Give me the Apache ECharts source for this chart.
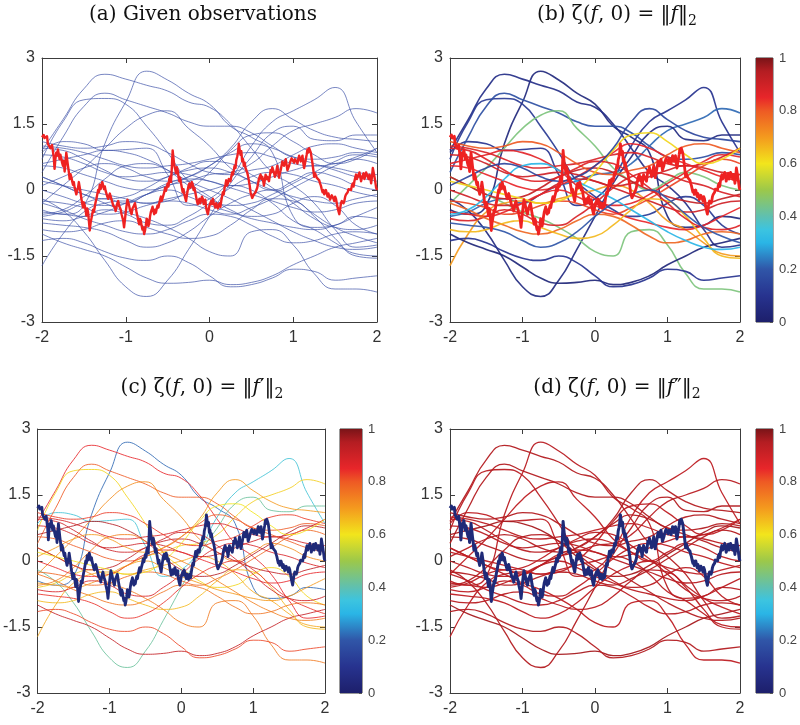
<!DOCTYPE html>
<html><head><meta charset="utf-8">
<script src="https://cdn.jsdelivr.net/npm/echarts@6/dist/echarts.min.js"></script>
<style>html,body{margin:0;padding:0;background:#fff}#c{width:800px;height:725px}</style>
</head><body><div id="c"></div>
<script>
// ---------- data ----------
const xKnots = [-2,-1.75,-1.5,-1.25,-1,-0.75,-0.5,-0.25,0,0.25,0.5,0.75,1,1.25,1.5,1.75,2];
const curves = [
 [-0.45,-0.55,-0.35,1.05,2.0,2.7,2.5,2.2,1.95,1.45,1.2,0.85,-0.6,-0.85,-0.8,-0.6,-0.65],
 [0.9,1.6,2.3,2.63,2.52,2.38,2.25,2.0,1.88,1.5,0.95,0.4,0.1,-0.3,-0.9,-1.3,-1.25],
 [0.85,1.1,1.05,0.9,0.92,0.95,0.35,-0.35,-0.2,0.25,1.0,1.55,1.8,2.05,2.33,1.55,0.85],
 [0.7,1.55,2.05,2.08,1.95,1.45,0.85,0.2,-0.15,-0.45,-0.6,-0.55,-0.3,-0.15,-0.35,-0.8,-1.0],
 [0.4,1.2,1.9,2.2,2.05,1.9,1.75,1.55,1.45,1.45,1.3,1.0,0.75,0.7,0.75,0.85,0.8],
 [-0.3,0.1,0.5,0.95,1.4,1.7,1.8,1.4,1.0,0.5,0.2,0.0,0.2,0.4,0.3,0.1,0.0],
 [-0.6,-0.5,-0.3,-0.2,-0.3,-0.1,0.1,0.2,0.35,0.4,0.6,1.0,1.35,1.5,1.65,1.85,1.75],
 [-0.2,-0.47,-0.95,-1.6,-2.2,-2.42,-2.05,-1.35,-0.6,0.15,0.75,1.3,1.45,1.15,1.12,1.25,1.25],
 [0.3,0.1,-0.1,-0.3,-0.5,-0.65,-0.85,-1.1,-1.4,-1.5,-0.95,-0.9,-1.25,-1.9,-2.25,-2.25,-2.32],
 [-1.72,-1.0,-0.5,-0.3,-0.25,-0.3,-0.2,-0.1,0.0,0.1,0.0,-0.3,-0.7,-0.9,-1.2,-1.45,-1.5],
 [-1.0,-1.2,-1.35,-1.5,-1.75,-2.0,-2.12,-2.1,-2.05,-2.15,-2.1,-1.95,-1.7,-1.5,-1.3,-1.2,-1.1],
 [-1.15,-1.1,-1.2,-1.4,-1.55,-1.6,-1.5,-1.65,-1.95,-2.2,-2.15,-2.0,-1.8,-1.85,-2.05,-2.0,-1.95],
 [1.0,0.95,0.85,0.7,0.55,0.5,0.55,0.6,0.7,0.8,0.85,0.75,0.6,0.55,0.6,0.75,0.95],
 [0.8,0.75,0.6,0.4,0.3,0.35,0.4,0.35,0.2,0.1,0.15,0.3,0.45,0.55,0.5,0.4,0.35],
 [0.55,0.5,0.35,0.2,0.05,0.0,0.1,0.3,0.55,0.85,1.05,0.95,0.75,0.6,0.45,0.3,0.2],
 [0.3,0.1,-0.1,-0.2,-0.15,0.05,0.3,0.45,0.5,0.4,0.2,0.0,-0.15,-0.25,-0.3,-0.2,-0.1],
 [0.0,-0.15,-0.3,-0.35,-0.3,-0.1,0.15,0.25,0.2,0.05,-0.1,-0.25,-0.4,-0.5,-0.45,-0.3,-0.25],
 [-0.25,-0.3,-0.4,-0.55,-0.5,-0.35,-0.25,-0.3,-0.45,-0.55,-0.4,-0.2,0.05,0.3,0.55,0.7,0.6],
 [-0.5,-0.55,-0.6,-0.5,-0.3,-0.1,0.0,-0.15,-0.35,-0.5,-0.65,-0.75,-0.85,-0.9,-0.8,-0.6,-0.4],
 [-0.65,-0.7,-0.6,-0.45,-0.55,-0.75,-0.8,-0.6,-0.3,0.05,0.3,0.4,0.35,0.2,0.1,-0.05,-0.15],
 [1.1,1.0,0.95,1.0,1.1,1.05,0.85,0.6,0.4,0.35,0.45,0.55,0.8,1.0,1.05,0.95,0.85],
 [-0.3,-0.45,-0.65,-0.8,-0.95,-1.0,-0.9,-0.7,-0.55,-0.6,-0.8,-1.05,-1.2,-1.15,-1.0,-0.95,-1.0],
 [0.6,0.7,0.8,0.9,0.85,0.7,0.45,0.1,-0.2,-0.35,-0.3,-0.1,0.15,0.4,0.65,0.8,0.75],
 [0.2,0.1,0.0,-0.1,-0.2,-0.3,-0.25,0.0,0.4,0.9,1.25,1.3,1.1,0.8,0.6,0.7,0.95],
 [-0.9,-0.95,-0.9,-0.75,-0.7,-0.85,-1.0,-1.1,-1.05,-0.8,-0.45,-0.2,-0.25,-0.6,-1.1,-1.5,-1.55],
 [-0.55,-0.45,-0.15,0.25,0.55,0.6,0.45,0.2,0.0,-0.2,-0.45,-0.7,-0.95,-1.15,-1.3,-1.35,-1.3],
 [0.95,0.9,0.7,0.45,0.25,0.2,0.3,0.5,0.65,0.6,0.35,0.05,-0.3,-0.65,-0.85,-0.9,-0.8],
 [-0.75,-0.8,-0.85,-0.95,-1.15,-1.3,-1.2,-0.95,-0.6,-0.3,-0.1,0.0,-0.2,-0.55,-0.85,-1.05,-1.2],
 [0.1,0.3,0.5,0.6,0.5,0.3,0.2,0.3,0.55,0.95,1.55,1.85,1.6,1.35,1.2,1.15,1.1]
];
const zetaB = [0.05,0.08,0.1,0.12,0.18,0.45,0.22,0.06,0.45,0.7,0.04,0.1,0.88,0.9,0.85,0.92,0.9,0.82,0.85,0.88,0.8,0.78,0.86,0.62,0.66,0.3,0.87,0.2,0.15];
const zetaC = [0.22,0.85,0.36,0.62,0.8,0.72,0.63,0.42,0.75,0.68,0.92,0.82,0.88,0.9,0.8,0.93,0.85,0.78,0.7,0.88,0.83,0.76,0.95,0.6,0.66,0.74,0.9,0.84,0.7];
const zetaD = [0.94,0.95,0.93,0.94,0.95,0.93,0.94,0.95,0.93,0.94,0.96,0.95,0.93,0.94,0.95,0.93,0.94,0.95,0.94,0.93,0.95,0.94,0.96,0.93,0.94,0.95,0.94,0.93,0.95];
const highlight = [
 [-2.00,1.20],[-1.98,1.25],[-1.97,1.18],[-1.95,1.15],[-1.94,1.22],[-1.93,1.05],[-1.91,1.08],[-1.90,0.95],[-1.89,0.92],[-1.88,1.02],[-1.87,0.98],[-1.86,0.75],[-1.85,0.48],[-1.84,0.70],[-1.83,0.85],[-1.82,0.78],[-1.81,0.92],
 [-1.80,0.82],[-1.79,0.70],[-1.78,0.80],[-1.77,0.72],[-1.76,0.62],[-1.75,0.55],[-1.74,0.66],[-1.73,0.42],[-1.72,0.60],[-1.71,0.85],[-1.70,0.70],[-1.69,0.55],[-1.68,0.42],[-1.67,0.25],[-1.66,0.36],[-1.65,0.30],[-1.64,0.20],[-1.63,0.12],[-1.62,0.18],[-1.61,0.05],
 [-1.59,-0.10],[-1.58,-0.02],[-1.57,0.05],[-1.56,0.18],[-1.55,0.15],[-1.54,-0.05],[-1.53,-0.20],[-1.52,-0.30],[-1.51,-0.40],[-1.50,-0.28],[-1.49,-0.35],[-1.48,-0.45],[-1.47,-0.58],[-1.46,-0.42],[-1.45,-0.50],[-1.44,-0.70],[-1.43,-0.92],[-1.42,-0.75],[-1.41,-0.65],
 [-1.40,-0.55],[-1.39,-0.45],[-1.38,-0.50],[-1.37,-0.38],[-1.36,-0.28],[-1.35,-0.20],[-1.34,-0.10],[-1.33,0.00],[-1.32,-0.05],[-1.31,0.12],[-1.30,0.02],[-1.29,0.05],[-1.28,0.18],[-1.27,0.15],[-1.26,0.02],[-1.25,0.08],[-1.24,-0.02],[-1.23,-0.05],[-1.22,-0.15],[-1.21,-0.20],
 [-1.19,-0.08],[-1.18,-0.15],[-1.16,-0.28],[-1.15,-0.35],[-1.13,-0.40],[-1.12,-0.48],[-1.11,-0.38],[-1.10,-0.30],[-1.09,-0.25],[-1.08,-0.35],[-1.06,-0.45],[-1.05,-0.55],[-1.03,-0.70],[-1.02,-0.85],[-1.01,-0.68],[-1.00,-0.50],[-0.99,-0.35],[-0.98,-0.22],[-0.97,-0.28],[-0.96,-0.35],
 [-0.95,-0.45],[-0.93,-0.55],[-0.92,-0.42],[-0.90,-0.35],[-0.89,-0.30],[-0.88,-0.40],[-0.87,-0.52],[-0.86,-0.60],[-0.85,-0.70],[-0.84,-0.78],[-0.83,-0.65],[-0.82,-0.70],[-0.81,-0.82],[-0.80,-0.90],[-0.79,-0.85],[-0.78,-1.00],[-0.77,-0.92],[-0.76,-0.80],[-0.75,-0.65],[-0.74,-0.70],
 [-0.73,-0.82],[-0.72,-0.75],[-0.71,-0.60],[-0.70,-0.50],[-0.69,-0.45],[-0.68,-0.38],[-0.67,-0.48],[-0.66,-0.55],[-0.65,-0.45],[-0.64,-0.52],[-0.63,-0.42],[-0.62,-0.35],[-0.61,-0.40],[-0.60,-0.30],[-0.59,-0.22],[-0.58,-0.15],[-0.57,-0.25],[-0.56,-0.18],[-0.54,-0.05],[-0.53,0.05],
 [-0.52,-0.02],[-0.50,0.15],[-0.49,0.08],[-0.48,0.25],[-0.47,0.30],[-0.46,0.18],[-0.45,0.50],[-0.44,0.90],[-0.43,0.72],[-0.42,0.55],[-0.41,0.48],[-0.40,0.38],[-0.39,0.52],[-0.38,0.45],[-0.37,0.30],[-0.36,0.20],[-0.35,0.28],[-0.34,0.15],[-0.33,0.05],[-0.32,-0.05],
 [-0.31,0.02],[-0.30,-0.10],[-0.29,-0.18],[-0.28,-0.25],[-0.27,-0.12],[-0.26,0.00],[-0.25,0.10],[-0.24,0.15],[-0.23,0.05],[-0.22,0.10],[-0.21,0.18],[-0.20,0.12],[-0.19,0.00],[-0.18,0.05],[-0.17,-0.05],[-0.16,-0.15],[-0.15,-0.25],[-0.14,-0.32],[-0.13,-0.25],[-0.12,-0.20],
 [-0.11,-0.30],[-0.10,-0.28],[-0.09,-0.15],[-0.08,-0.20],[-0.07,-0.32],[-0.06,-0.30],[-0.05,-0.22],[-0.04,-0.40],[-0.03,-0.48],[-0.02,-0.55],[-0.01,-0.45],[0.00,-0.35],[0.01,-0.30],[0.02,-0.25],[0.03,-0.32],[0.04,-0.20],[0.05,-0.28],[0.06,-0.35],[0.07,-0.40],[0.08,-0.30],
 [0.09,-0.36],[0.10,-0.42],[0.11,-0.35],[0.12,-0.30],[0.13,-0.38],[0.14,-0.25],[0.15,-0.15],[0.16,-0.05],[0.17,-0.10],[0.18,0.05],[0.19,0.12],[0.20,0.22],[0.21,0.10],[0.22,0.15],[0.23,0.25],[0.24,0.28],[0.25,0.20],[0.26,0.30],[0.27,0.40],[0.28,0.35],
 [0.29,0.45],[0.30,0.55],[0.31,0.50],[0.32,0.68],[0.33,0.75],[0.34,0.85],[0.35,1.05],[0.36,0.92],[0.37,0.80],[0.38,0.88],[0.39,0.65],[0.40,0.70],[0.41,0.55],[0.42,0.62],[0.43,0.50],[0.44,0.45],[0.45,0.40],[0.46,0.32],[0.47,0.30],[0.48,0.10],
 [0.49,-0.05],[0.50,-0.12],[0.51,-0.18],[0.52,-0.15],[0.53,-0.10],[0.54,-0.12],[0.55,-0.05],[0.56,0.00],[0.57,0.05],[0.58,0.15],[0.59,0.25],[0.60,0.30],[0.61,0.35],[0.62,0.25],[0.63,0.30],[0.64,0.22],[0.65,0.10],[0.66,0.22],[0.67,0.35],[0.68,0.25],
 [0.69,0.30],[0.70,0.28],[0.71,0.20],[0.72,0.32],[0.73,0.45],[0.74,0.40],[0.75,0.52],[0.76,0.45],[0.77,0.40],[0.78,0.30],[0.79,0.35],[0.80,0.45],[0.81,0.55],[0.82,0.40],[0.83,0.28],[0.84,0.38],[0.85,0.45],[0.86,0.55],[0.87,0.65],[0.88,0.60],
 [0.89,0.55],[0.90,0.62],[0.91,0.70],[0.92,0.58],[0.93,0.45],[0.94,0.50],[0.95,0.55],[0.96,0.62],[0.97,0.65],[0.98,0.72],[0.99,0.75],[1.00,0.68],[1.01,0.62],[1.02,0.70],[1.03,0.72],[1.04,0.65],[1.05,0.60],[1.06,0.70],[1.07,0.78],[1.08,0.72],
 [1.09,0.65],[1.10,0.72],[1.11,0.78],[1.12,0.62],[1.13,0.50],[1.14,0.60],[1.15,0.70],[1.16,0.80],[1.17,0.92],[1.18,0.85],[1.19,0.95],[1.20,0.90],[1.21,0.85],[1.22,0.72],[1.23,0.60],[1.24,0.45],[1.25,0.30],[1.26,0.38],[1.27,0.35],[1.28,0.28],
 [1.29,0.25],[1.30,0.30],[1.31,0.22],[1.32,0.15],[1.33,0.10],[1.34,0.02],[1.35,-0.05],[1.36,0.00],[1.37,-0.10],[1.38,-0.05],[1.39,0.00],[1.40,-0.08],[1.41,-0.15],[1.42,-0.08],[1.43,-0.12],[1.44,-0.22],[1.45,-0.18],[1.46,-0.12],[1.47,-0.10],[1.48,-0.20],
 [1.49,-0.25],[1.50,-0.15],[1.51,-0.20],[1.52,-0.30],[1.53,-0.40],[1.54,-0.48],[1.55,-0.55],[1.56,-0.42],[1.57,-0.30],[1.58,-0.25],[1.59,-0.22],[1.60,-0.30],[1.61,-0.25],[1.62,-0.15],[1.63,-0.10],[1.64,-0.12],[1.65,-0.05],[1.66,0.02],[1.67,0.05],[1.68,-0.02],
 [1.69,0.00],[1.70,0.10],[1.71,0.15],[1.72,0.08],[1.73,0.20],[1.74,0.28],[1.75,0.35],[1.76,0.25],[1.77,0.30],[1.78,0.35],[1.79,0.40],[1.80,0.30],[1.81,0.20],[1.82,0.28],[1.83,0.30],[1.84,0.38],[1.85,0.25],[1.86,0.32],[1.87,0.40],[1.88,0.35],
 [1.89,0.30],[1.90,0.25],[1.91,0.35],[1.92,0.28],[1.93,0.15],[1.94,0.30],[1.95,0.50],[1.96,0.40],[1.97,0.30],[1.98,0.18],[1.99,0.05],[2.00,0.00]
];
const cbStops = [[0,'#1d1f6b'],[0.1,'#27338f'],[0.2,'#3056a8'],[0.3,'#2ab5e6'],[0.35,'#3cc4e0'],[0.4,'#5fc0b0'],[0.5,'#9cc84a'],[0.6,'#f2e51c'],[0.7,'#f49a1e'],[0.8,'#ee5a24'],[0.85,'#e8262a'],[0.95,'#b41d22'],[1,'#7a1418']];

// ---------- helpers ----------
function hex(c){return [parseInt(c.substr(1,2),16),parseInt(c.substr(3,2),16),parseInt(c.substr(5,2),16)];}
function cmap(v,a){
  for(let i=1;i<cbStops.length;i++){
    if(v<=cbStops[i][0]){
      const t=(v-cbStops[i-1][0])/(cbStops[i][0]-cbStops[i-1][0]);
      const p=hex(cbStops[i-1][1]),q=hex(cbStops[i][1]);
      const r=p.map((x,k)=>Math.round(x+(q[k]-x)*t));
      return 'rgba('+r[0]+','+r[1]+','+r[2]+','+a+')';
    }
  }
  return cbStops[cbStops.length-1][1];
}

const plotGrids = [
  {left:42, top:58, width:335, height:264},
  {left:450, top:58, width:290, height:264},
  {left:35, top:429, width:290, height:264},
  {left:450, top:429, width:290, height:264}
];
const cbGrids = [
  {left:756, top:58, width:21, height:264},
  {left:340, top:429, width:22, height:264},
  {left:756, top:429, width:21, height:264}
];
const axCol = '#3c3c3c';
const lblFont = "'Liberation Sans', Arial, sans-serif";
const grid=[], xAxis=[], yAxis=[], series=[];
plotGrids.forEach((g,i)=>{
  grid.push(Object.assign({containLabel:false},g));
  const common = {type:'value', gridIndex:i, splitLine:{show:false},
    axisLine:{show:true,onZero:false,lineStyle:{color:axCol,width:1}},
    axisTick:{show:true,inside:true,length:5,lineStyle:{color:axCol}}};
  xAxis.push(Object.assign({},common,{position:'bottom',min:-2,max:2,interval:1,
    axisLabel:{color:'#333',fontSize:16,fontFamily:lblFont,margin:8}}));
  xAxis.push(Object.assign({},common,{position:'top',min:-2,max:2,interval:1,axisLabel:{show:false}}));
  yAxis.push(Object.assign({},common,{position:'left',min:-3,max:3,interval:1.5,
    axisLabel:{color:'#333',fontSize:16,fontFamily:lblFont,margin:7}}));
  yAxis.push(Object.assign({},common,{position:'right',min:-3,max:3,interval:1.5,axisLabel:{show:false}}));
});
cbGrids.forEach((g,j)=>{
  const gi = 4+j;
  grid.push(Object.assign({show:true,borderColor:'#333',borderWidth:1},g));
  xAxis.push({type:'category',gridIndex:gi,data:['z'],show:false,boundaryGap:true});
  yAxis.push({type:'value',gridIndex:gi,position:'right',min:0,max:1,interval:0.2,
    splitLine:{show:false},axisLine:{show:false},
    axisTick:{show:true,inside:true,length:3,lineStyle:{color:'#555'}},
    axisLabel:{color:'#444',fontSize:13,fontFamily:lblFont,margin:6}});
  series.push({type:'bar',xAxisIndex:8+j,yAxisIndex:8+j,data:[1],barWidth:'100%',silent:true,
    itemStyle:{color:new echarts.graphic.LinearGradient(0,1,0,0,cbStops.map(s=>({offset:s[0],color:s[1]})))}});
});

const panelStyles = [
  {col:()=> 'rgba(62,82,168,0.78)', w:0.9, hl:'#ee2222', hw:2.4},
  {col:(i)=> cmap(zetaB[i],0.92), w:1.6, hl:'#ee2222', hw:2.8},
  {col:(i)=> cmap(zetaC[i],0.85), w:1, hl:'#1f2a78', hw:2.8},
  {col:(i)=> cmap(zetaD[i],0.95), w:1.3, hl:'#1f2a78', hw:3}
];
panelStyles.forEach((ps,p)=>{
  curves.forEach((c,i)=>{
    series.push({type:'line',xAxisIndex:2*p,yAxisIndex:2*p,showSymbol:false,smooth:0.5,silent:true,
      data:c.map((v,k)=>[xKnots[k],v]),lineStyle:{color:ps.col(i),width:ps.w},z:2});
  });
  series.push({type:'line',xAxisIndex:2*p,yAxisIndex:2*p,showSymbol:false,silent:true,
    data:highlight,lineStyle:{color:ps.hl,width:ps.hw,join:'round'},z:5});
});

const serif = "'DejaVu Serif','Liberation Serif',serif";
function mk(x,y,txt){
  const base={fontFamily:serif,fontSize:20,fill:'#111',lineHeight:26,verticalAlign:'middle'};
  return {type:'text',x:x,y:y,style:{text:txt,align:'center',verticalAlign:'middle',
    font:'20px '+serif,fill:'#111',
    rich:{n:base,
          i:Object.assign({},base,{fontStyle:'italic'}),
          s:{fontFamily:serif,fontSize:14,fill:'#111',lineHeight:26,verticalAlign:'bottom'}}}};
}
const graphic = [
  mk(203,15,'{n|(a) Given observations}'),
  mk(617,15,'{n|(b) ζ(}{i|f}{n|, 0) = ‖}{i|f}{n|‖}{s|2}'),
  mk(202,388,'{n|(c) ζ(}{i|f}{n|, 0) = ‖}{i|f}{n|′‖}{s|2}'),
  mk(617,388,'{n|(d) ζ(}{i|f}{n|, 0) = ‖}{i|f}{n|″‖}{s|2}')
];

const chart = echarts.init(document.getElementById('c'),null,{renderer:'canvas'});
chart.setOption({animation:false,backgroundColor:'#fff',grid,xAxis,yAxis,series,graphic});
</script></body></html>
